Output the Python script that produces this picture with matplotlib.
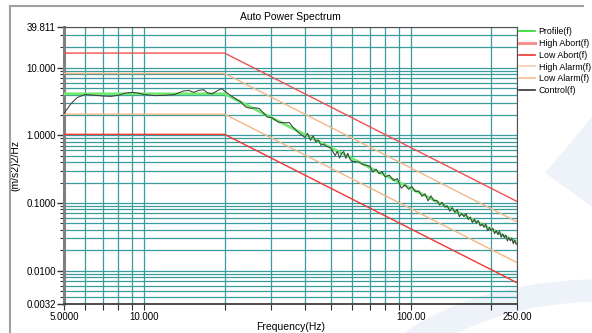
import matplotlib.pyplot as plt
from matplotlib.ticker import FixedLocator, LogLocator, NullFormatter
from matplotlib.patches import Wedge, Polygon
from matplotlib.lines import Line2D

plt.rcParams['font.family'] = ['Liberation Sans', 'DejaVu Sans']
plt.rcParams['font.size'] = 7

# ---- data ----
# breakpoints of the reference profile and its limits (Hz, (m/s2)2/Hz)
break_freq = [5.0, 20.0, 250.0]
profile = [4.1, 4.1, 0.0262]
high_abort = [16.4, 16.4, 0.105]
low_abort = [1.03, 1.03, 0.0066]
high_alarm = [8.2, 8.2, 0.0525]
low_alarm = [2.05, 2.05, 0.0131]

# measured control spectrum
control_freq = [5.0, 5.3, 5.6, 6.0, 6.5, 7.0, 7.5, 8.0, 8.5, 9.0, 9.5, 10.0,
                11.0, 12.0, 13.0, 14.0, 14.7, 15.3, 16.0, 16.7, 17.3, 18.0,
                18.7, 19.5, 20.0, 21, 22, 23, 24, 25, 26, 27, 28, 29, 30, 32,
                34, 35, 36, 38, 40, 41, 42, 43, 44, 45, 46, 47, 48, 50, 52,
                53, 54, 55, 56, 57, 58, 59, 60, 62, 64, 66, 68, 70, 72, 74,
                76, 78, 80, 83, 86, 89, 92, 95, 98, 101, 104, 107, 110, 113,
                116, 119, 122, 125, 128, 131, 134, 137, 140, 143, 146, 149,
                152, 155, 158, 161, 164, 167, 170, 173, 176, 179, 182, 185,
                188, 191, 194, 197, 200, 203, 206, 209, 212, 215, 218, 221,
                224, 227, 230, 233, 236, 239, 242, 245, 248, 250]
control = [2.1, 2.9, 3.6, 4.0, 3.9, 3.8, 3.75, 3.9, 4.2, 4.3, 4.2, 4.0,
           3.85, 3.9, 4.0, 4.5, 4.6, 4.3, 4.6, 4.7, 4.2, 4.1,
           4.5, 4.9, 4.5, 3.9, 3.46, 3.1, 2.62, 2.5, 2.55, 2.48, 2.13, 1.85,
           1.82, 1.55, 1.53, 1.54, 1.33, 1.08, 0.93, 1.07, 0.84, 0.98, 0.80,
           0.85, 0.71, 0.74, 0.69, 0.656, 0.50, 0.58, 0.46, 0.54, 0.575,
           0.455, 0.54, 0.45, 0.41, 0.405, 0.40, 0.37, 0.36, 0.35, 0.285,
           0.315, 0.27, 0.29, 0.243, 0.257, 0.215, 0.228, 0.165, 0.185,
           0.159, 0.174, 0.146, 0.150, 0.125, 0.136, 0.107, 0.127, 0.107,
           0.109, 0.0931, 0.102, 0.0868, 0.0900, 0.0753, 0.0850, 0.0723,
           0.0798, 0.0625, 0.0697, 0.0631, 0.0690, 0.0567, 0.0617, 0.0511,
           0.0570, 0.0503, 0.0548, 0.0455, 0.0493, 0.0436, 0.0486, 0.0388,
           0.0431, 0.0390, 0.0422, 0.0351, 0.0390, 0.0339, 0.0380, 0.0311,
           0.0346, 0.0307, 0.0334, 0.0273, 0.0308, 0.0274, 0.0304, 0.0249,
           0.0281, 0.0245, 0.0250]

x_ticks = [5, 10, 100, 250]
x_labels = ['5.0000', '10.000', '100.00', '250.00']
y_ticks = [0.0032, 0.01, 0.1, 1, 10, 39.811]
y_labels = ['0.0032', '0.0100', '0.1000', '1.0000', '10.000', '39.811']

W, H = 592, 333
fig = plt.figure(figsize=(W / 100, H / 100), dpi=100)

# faint watermark behind the chart
wm = '#eef2f9'
fig.add_artist(Wedge((600 / W, -87 / H), 250 / W, 88, 162, width=40 / W,
                     transform=fig.transFigure, facecolor=wm, edgecolor='none',
                     zorder=0))
fig.add_artist(Polygon([(1.02, 118 / H), (545 / W, 160 / H), (1.02, 230 / H)],
                       closed=True, transform=fig.transFigure, facecolor=wm,
                       edgecolor='none', zorder=0))
# panel frame of the screenshot
fig.add_artist(Line2D([10 / W, 10 / W], [0, 1 - 6 / H], color='#a0a0a0', lw=1.5))
fig.add_artist(Line2D([10 / W, 583 / W], [1 - 6 / H, 1 - 6 / H], color='#a0a0a0', lw=1.5))

ax = fig.add_axes([64 / W, 1 - 304 / H, (517 - 64) / W, (304 - 27) / H])
ax.patch.set_alpha(0)

ax.plot(break_freq, profile, color='#70ea70', lw=2.0, label='Profile(f)', zorder=3)
ax.plot(break_freq, high_abort, color='#f05050', lw=1.0, label='High Abort(f)', zorder=3)
ax.plot(break_freq, low_abort, color='#f03535', lw=1.0, label='Low Abort(f)', zorder=3)
ax.plot(break_freq, high_alarm, color='#f5b585', lw=1.0, label='High Alarm(f)', zorder=3)
ax.plot(break_freq, low_alarm, color='#f5b585', lw=1.0, label='Low Alarm(f)', zorder=3)
ax.plot(control_freq, control, color='#404040', lw=0.75, label='Control(f)', zorder=4)

ax.set_xscale('log')
ax.set_yscale('log')
ax.set_xlim(5, 250)
ax.set_ylim(0.0032, 39.811)

ax.xaxis.set_major_locator(FixedLocator(x_ticks))
ax.set_xticklabels(x_labels)
ax.xaxis.set_minor_locator(LogLocator(base=10, subs=range(2, 10)))
ax.xaxis.set_minor_formatter(NullFormatter())
ax.yaxis.set_major_locator(FixedLocator(y_ticks))
ax.set_yticklabels(y_labels)
ax.yaxis.set_minor_locator(LogLocator(base=10, subs=range(2, 10)))
ax.yaxis.set_minor_formatter(NullFormatter())

ax.grid(which='both', color='#3a9c9c', lw=0.9, zorder=1)
ax.set_axisbelow(True)

ax.tick_params(axis='y', which='major', length=5, width=1, color='#333333', pad=1)
ax.tick_params(axis='y', which='minor', length=3, width=0.8, color='#333333')
ax.tick_params(axis='x', which='both', length=4, width=0.8, color='#333333', pad=1.5)

ax.spines['left'].set_color('#808080')
ax.spines['left'].set_linewidth(2.2)
ax.spines['bottom'].set_color('#404040')
ax.spines['bottom'].set_linewidth(1.3)
for s in ['top', 'right']:
    ax.spines[s].set_color('#505050')
    ax.spines[s].set_linewidth(0.8)

ax.set_title('Auto Power Spectrum', fontsize=7.5, pad=5)
ax.set_xlabel('Frequency(Hz)', fontsize=7.5, labelpad=0)
ax.set_ylabel('(m/s2)2/Hz', fontsize=7.5, labelpad=4)

handles = [Line2D([], [], color='#22dd22', lw=1.2),
           Line2D([], [], color='#f39090', lw=2.2),
           Line2D([], [], color='#ee3535', lw=1.2),
           Line2D([], [], color='#f8cba5', lw=1.2),
           Line2D([], [], color='#f5bf90', lw=1.2),
           Line2D([], [], color='#333333', lw=1.2)]
labels = ['Profile(f)', 'High Abort(f)', 'Low Abort(f)', 'High Alarm(f)',
          'Low Alarm(f)', 'Control(f)']
fig.legend(handles, labels, loc='upper left', bbox_to_anchor=(519 / W, 1 - 27 / H),
           frameon=False, fontsize=6.4, handlelength=1.8, handletextpad=0.4,
           labelspacing=0.32, borderpad=0, borderaxespad=0)

fig.savefig('out.png', dpi=100)
